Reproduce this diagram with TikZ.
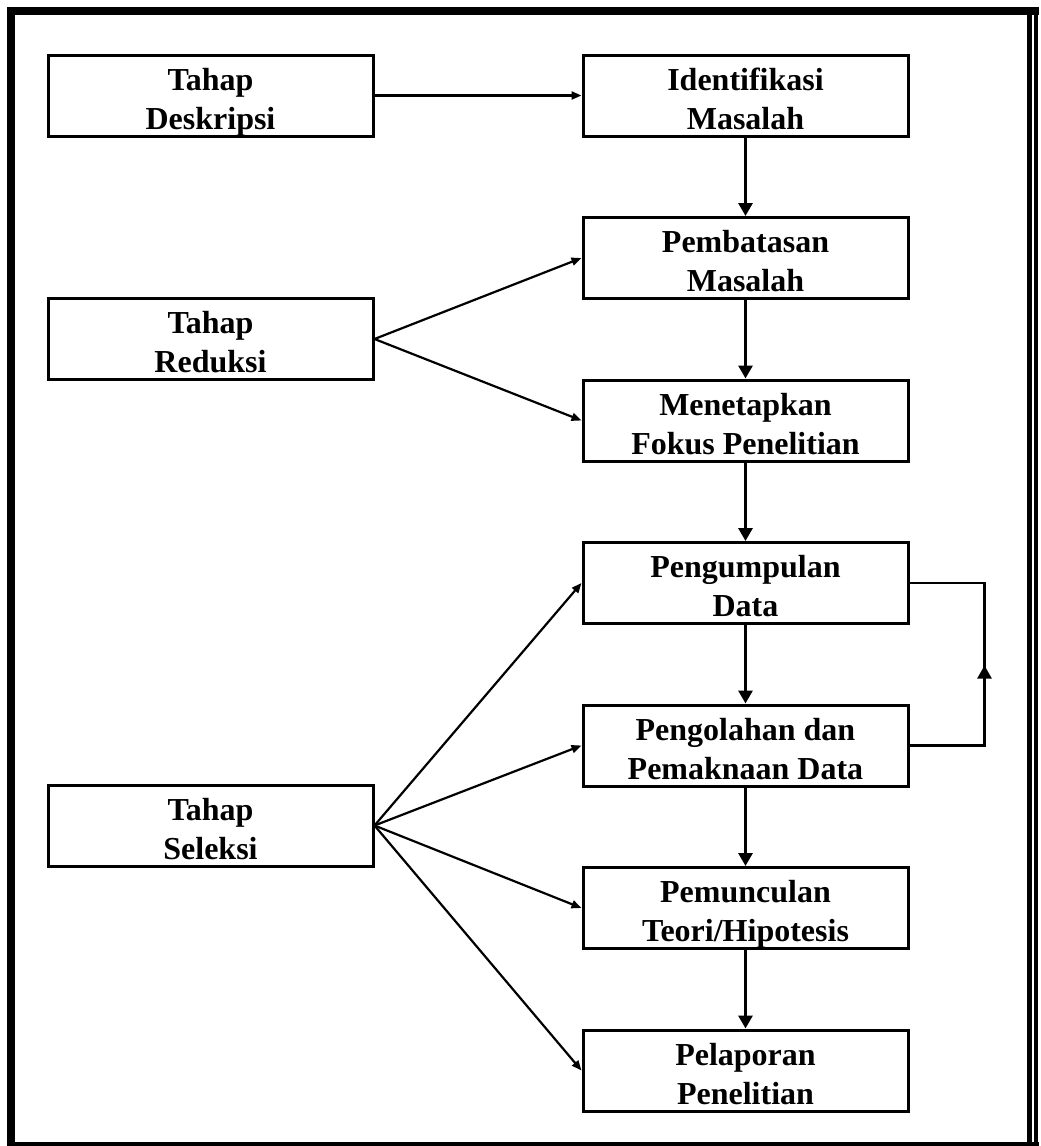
\documentclass[tikz,border=0pt]{standalone}
\usepackage{fontspec}
\setmainfont{Liberation Serif}
\usetikzlibrary{arrows.meta, chains, positioning}
\tikzset{
  stage/.style={
    rectangle,
    minimum width=325pt,
    minimum height=81pt,
    align=center,
    line width=3pt,
    draw=black,
    inner ysep=0pt,
    text height=73pt,
    text depth=6pt,
    font=\bfseries\fontsize{32}{39}\selectfont
  },
  arrow/.style={line width=3pt,-{Triangle[length=13pt,width=14pt]}},
  thinarrow/.style={line width=2.2pt,-{Triangle[length=10pt,width=8pt]}},
  frame/.style={line width=8pt}
}
\begin{document}
\begin{tikzpicture}[x=1pt, y=1pt,
    start chain=going below,
    every join/.style={arrow},
    node distance=162.5pt, on grid
    ]
    \useasboundingbox (0,0) rectangle (1041,-1146);
    % frame
    \draw[frame] (7,-11) -- (1039,-11);
    \draw[frame] (11,-7) -- (11,-1146);
    \draw[line width=4pt] (7,-1144) -- (1039,-1144);
    \draw[line width=5pt] (1029.5,-15) -- (1029.5,-1142);
    \draw[line width=4pt] (1036,-7) -- (1036,-1146);
    % right column
    \node (s0) [stage, on chain] at (745.5,-95.5) {Identifikasi\\Masalah};
    \node (s1) [stage, on chain, join] {Pembatasan\\Masalah};
    \node (s2) [stage, on chain, join] {Menetapkan\\Fokus Penelitian};
    \node (s3) [stage, on chain, join] {Pengumpulan\\Data};
    \node (s4) [stage, on chain, join] {Pengolahan dan\\Pemaknaan Data};
    \node (s5) [stage, on chain, join] {Pemunculan\\Teori/Hipotesis};
    \node (s6) [stage, on chain, join] {Pelaporan\\Penelitian};
    % left column
    \node (t0) [stage] at (210.5,-95.5) {Tahap\\Deskripsi};
    \node (t1) [stage] at (210.5,-339) {Tahap\\Reduksi};
    \node (t2) [stage] at (210.5,-825.5) {Tahap\\Seleksi};
    \draw[thinarrow] (t0) -- (s0);
    \draw[thinarrow] (t1.east) -- (s1.west);
    \draw[thinarrow] (t1.east) -- (s2.west);
    \foreach \s in {s3,s4,s5,s6}
      \draw[thinarrow] (t2.east) -- (\s.west);
    % loop back
    \draw[line width=2.5pt] (s4.east) -- ++(75,0) coordinate (c1) |- (s3.east);
    \draw[arrow, line width=2.5pt] (c1) -- ++(0,80);
\end{tikzpicture}
\end{document}
